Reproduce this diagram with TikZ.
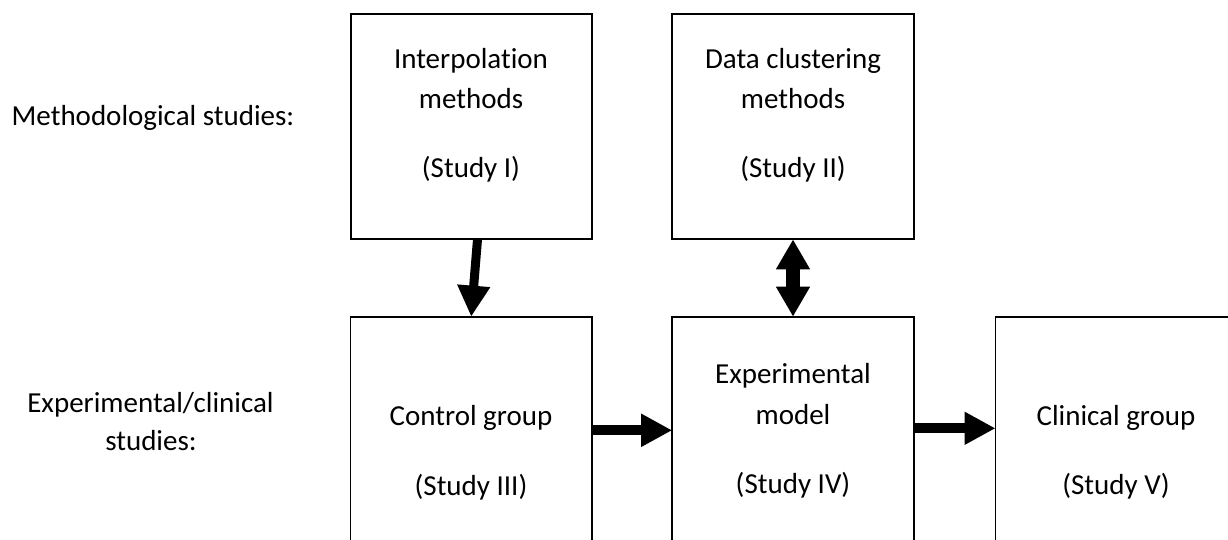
\documentclass[tikz,border=0pt]{standalone}
\usepackage{fontspec}
\setmainfont{Carlito}[Ligatures=NoCommon]
\usetikzlibrary{arrows.meta}
\begin{document}
\begin{tikzpicture}[x=1pt,y=-1pt,
  box/.style={draw,line width=1.8pt,minimum width=241.6pt,minimum height=225.3pt,inner sep=0pt,outer sep=0pt},
  txt/.style={anchor=base,inner sep=0pt,font=\fontsize{29}{40}\selectfont},
  fat/.style={line width=#1,-{Triangle[length=31pt,width=31pt]}},
  dbl/.style={line width=#1,{Triangle[length=30pt,width=32pt]}-{Triangle[length=30pt,width=32pt]}}
]
\useasboundingbox (0,0) rectangle (1228,539);
\clip (0,0) rectangle (1228,539);
% boxes
\node[box] (b1) at (471.5,126.7) {};
\node[box] (b2) at (793,126.7) {};
\node[box] (b3) at (471.2,429.3) {};
\node[box] (b4) at (793,429.3) {};
\node[box] (b5) at (1116.3,429.3) {};
% left labels
\node[txt] (m1) at (153,125) {Methodological studies:};
\node[txt] (e1) at (150.5,412) {Experimental/clinical};
\node[txt] (e2) at (151,450) {studies:};
% box texts
\node[txt] (t1a) at (471,68) {Interpolation};
\node[txt] (t1b) at (471,108) {methods};
\node[txt] (t1c) at (471,177) {(Study I)};
\node[txt] (t2a) at (793,68) {Data clustering};
\node[txt] (t2b) at (793,108) {methods};
\node[txt] (t2c) at (793,177) {(Study II)};
\node[txt] (t3a) at (471,425) {Control group};
\node[txt] (t3b) at (471,495) {(Study III)};
\node[txt] (t4a) at (793,383) {Experimental};
\node[txt] (t4b) at (793,424) {model};
\node[txt] (t4c) at (793,493) {(Study IV)};
\node[txt] (t5a) at (1116,425) {Clinical group};
\node[txt] (t5b) at (1116,494) {(Study V)};
% arrows
\draw[fat=9pt] ([xshift=6pt]b1.south) -- (b3.north);
\draw[dbl=14pt] (b2.south) -- (b4.north);
\draw[fat=10pt] ([yshift=-1pt]b3.east) -- ([yshift=-1pt]b4.west);
\draw[fat=10pt] ([yshift=1pt]b4.east) -- ([yshift=1pt]b5.west);
\end{tikzpicture}
\end{document}
